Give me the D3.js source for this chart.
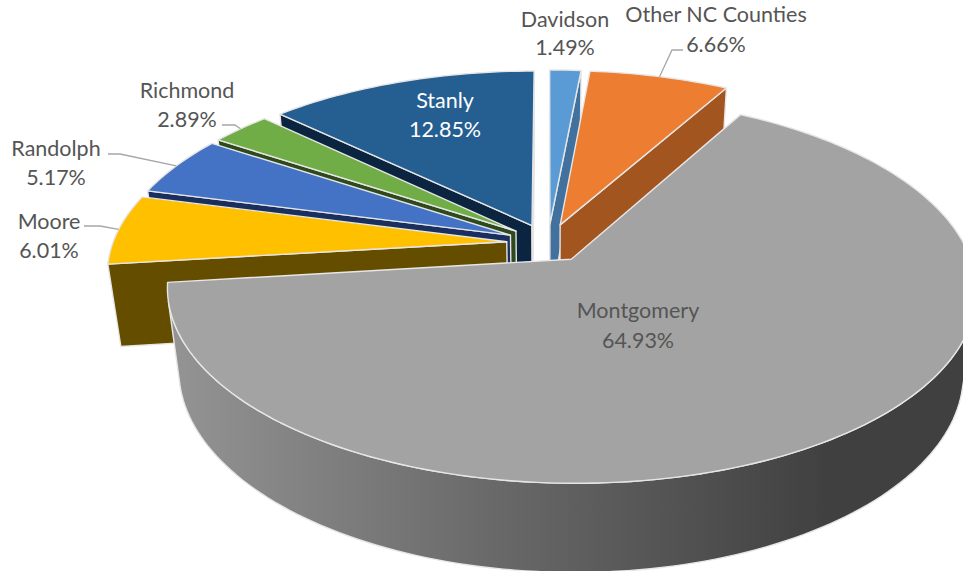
<!DOCTYPE html>
<html>
<head>
<meta charset="utf-8">
<script src="https://d3js.org/d3.v7.min.js"></script>
<style>
  html, body { margin: 0; background: white; overflow: hidden; }
  text { font-family: 'Lato', 'Liberation Sans', sans-serif; font-size: 21.5px; text-anchor: middle; }
</style>
</head>
<body>
<div id="chart"></div>
<script>
var counties = ["Davidson", "Other NC Counties", "Montgomery", "Moore", "Randolph", "Richmond", "Stanly"]
var shares = [1.49, 6.66, 64.93, 6.01, 5.17, 2.89, 12.85]
var topColors = ["#5b9bd5", "#ed7d31", "#a3a3a3", "#ffc000", "#4472c4", "#70ad47", "#255e91"]
var wallColors = ["#41719c", "#a35520", "#808080", "#654d00", "#1a2f5e", "#2e4a1c", "#0b2540"]

// label centres: x, y of first line, then the leader elbow (null when no leader)
var labelX = [565, 716, 638, 49, 56, 187, 445]
var labelY = [27, 22, 318, 229, 156, 98, 108]
var lineGap = [28, 30, 30, 29, 29, 29, 29]
var elbows = [null, [[672, 50], [683, 50]], null, [[100, 226], [84, 226]], [[120, 154], [108, 154]], [[235, 125], [222, 125]], null]

var width = 963
var height = 571

// camera fitted to the picture
var cx = 548, cy = 243
var rx = 394, ry = 183.6, persp = 0.1556
var depth = 84, depthPersp = 0.03
var explode = 0.105

function project(p, low) {
  var w = 1 + persp * p[1] + (low ? depthPersp : 0)
  return [cx + rx * p[0] / w, cy + (-ry * p[1] + (low ? depth : 0)) / w]
}

var svg = d3.select("#chart").append("svg")
  .attr("width", width)
  .attr("height", height)
  .style("display", "block")

var grad = svg.append("defs").append("linearGradient")
  .attr("id", "wallShade")
  .attr("gradientUnits", "userSpaceOnUse")
  .attr("x1", 170).attr("x2", 830).attr("y1", 0).attr("y2", 0)
grad.append("stop").attr("offset", "0%").attr("stop-color", "#949494")
grad.append("stop").attr("offset", "50%").attr("stop-color", "#686868")
grad.append("stop").attr("offset", "100%").attr("stop-color", "#404040")

var pie = d3.pie().sort(null).value(function(d) { return d })
var arcs = pie(shares)

var line = d3.line()

arcs.forEach(function(d) {
  var mid = (d.startAngle + d.endAngle) / 2
  d.off = [explode * Math.sin(mid), explode * Math.cos(mid)]
  d.at = function(a, r) {
    return [d.off[0] + r * Math.sin(a), d.off[1] + r * Math.cos(a)]
  }
})

function rim(d, low) {
  var pts = []
  var steps = Math.ceil((d.endAngle - d.startAngle) * 40)
  for (var i = 0; i <= steps; i++) {
    pts.push(project(d.at(d.startAngle + (d.endAngle - d.startAngle) * i / steps, 1), low))
  }
  return pts
}

// walls are only drawn when they face the camera
function drawWall(g, pts, fill) {
  g.append("path")
    .attr("d", line(pts) + "Z")
    .attr("fill", fill)
    .attr("stroke", "#e6e6e6")
    .attr("stroke-width", 1.4)
    .attr("stroke-linejoin", "round")
}

// back to front
var drawOrder = [6, 5, 4, 3, 0, 1, 2]

drawOrder.forEach(function(i) {
  var d = arcs[i]
  var g = svg.append("g")
  var apexTop = project(d.at(0, 0))
  var apexLow = project(d.at(0, 0), true)
  var top = rim(d)
  var low = rim(d, true)
  var n = top.length - 1

  var startWall = [apexTop, top[0], low[0], apexLow]
  if (d3.polygonArea(startWall) > 0) drawWall(g, startWall, wallColors[i])

  var endWall = [apexTop, apexLow, low[n], top[n]]
  if (d3.polygonArea(endWall) > 0) drawWall(g, endWall, wallColors[i])

  // outer wall, front facing part of the rim
  var upper = [], lower = []
  for (var k = 0; k < n; k++) {
    var quad = [top[k], top[k + 1], low[k + 1], low[k]]
    if (d3.polygonArea(quad) > 0) {
      if (!upper.length) { upper.push(top[k]); lower.push(low[k]) }
      upper.push(top[k + 1])
      lower.push(low[k + 1])
    }
  }
  if (upper.length) {
    drawWall(g, upper.concat(lower.reverse()), i == 2 ? "url(#wallShade)" : wallColors[i])
  }

  g.append("path")
    .attr("d", line([apexTop].concat(top)) + "Z")
    .attr("fill", topColors[i])
    .attr("stroke", "#e6e6e6")
    .attr("stroke-width", 1.4)
    .attr("stroke-linejoin", "round")
})

// leaders
arcs.forEach(function(d, i) {
  if (!elbows[i]) return
  var mid = (d.startAngle + d.endAngle) / 2
  svg.append("path")
    .attr("d", line([project(d.at(mid, 1))].concat(elbows[i])))
    .attr("fill", "none")
    .attr("stroke", "#a6a6a6")
    .attr("stroke-width", 1.3)
})

// labels
counties.forEach(function(name, i) {
  var fill = name == "Stanly" ? "#ffffff" : "#555555"
  svg.append("text").attr("x", labelX[i]).attr("y", labelY[i]).style("fill", fill).text(name)
  svg.append("text").attr("x", labelX[i]).attr("y", labelY[i] + lineGap[i]).style("fill", fill)
    .text(shares[i].toFixed(2) + "%")
})
</script>
</body>
</html>
